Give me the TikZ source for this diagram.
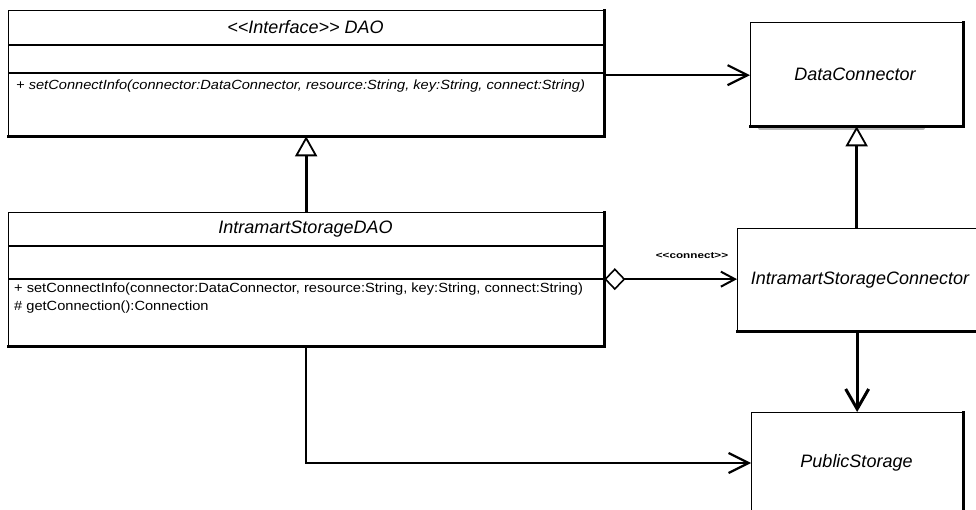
\documentclass[tikz,border=0pt]{standalone}
\usepackage{fontspec}
\setmainfont{Liberation Sans}
\newfontfamily\methfont[FakeStretch=1.1]{Liberation Sans}
\newfontfamily\lblfont[FakeStretch=1.3]{Liberation Sans}
\usetikzlibrary{arrows.meta}
\newcommand{\dlt}{<\kern0pt<}
\newcommand{\dgt}{>\kern0pt>}
\begin{document}
\begin{tikzpicture}[x=1pt,y=-1pt,
  box/.style={draw, line width=1.3pt, fill=white, inner sep=0pt, anchor=north west},
  ttl/.style={font=\itshape\fontsize{18}{21}\selectfont, inner sep=0pt},
  meth/.style={font=\methfont\fontsize{13.3}{16}\selectfont, inner sep=0pt, anchor=west},
  sep/.style={line width=1.1pt},
  edge/.style={line width=2.6pt, line cap=rect},
  hline/.style={line width=2.2pt},
  vline/.style={line width=3.2pt},
  opentip/.style={-{Straight Barb[length=20pt,width=20pt,line width=2.2pt]}},
  gentip/.style={-{Triangle[open,length=20pt,width=22pt,line width=1.8pt,fill=white]}},
  aggtip/.style={{Diamond[open,length=21pt,width=22pt,line width=1.6pt,fill=white]}-{Straight Barb[length=14pt,width=15pt,line width=2pt]}}
]
\useasboundingbox (0,0) rectangle (976,510);

% boxes
\node[box, minimum width=595pt, minimum height=125pt] (dao) at (8,10) {};
\node[box, minimum width=595pt, minimum height=133pt] (isdao) at (8,212) {};
\fill[gray!55, rounded corners=2pt] (758,124) rectangle (925,130);
\node[box, minimum width=212pt, minimum height=103pt] (dc) at (750,22) {};
\node[box, minimum width=247pt, minimum height=102pt] (isc) at (737,228) {};
\node[box, minimum width=211pt, minimum height=110pt] (ps) at (751,412) {};

% heavier right/bottom edges
\draw[edge] (dao.north east) -- (dao.south east) -- (dao.south west);
\draw[edge] (isdao.north east) -- (isdao.south east) -- (isdao.south west);
\draw[edge] (dc.north east) -- (dc.south east) -- (dc.south west);
\draw[edge] (isc.south east) -- (isc.south west);
\draw[edge] (ps.north east) -- (ps.south east);

% compartments
\draw[sep] (dao.west |- 0,45) -- (dao.east |- 0,45);
\draw[sep] (dao.west |- 0,73) -- (dao.east |- 0,73);
\draw[sep] (isdao.west |- 0,246) -- (isdao.east |- 0,246);
\draw[sep] (isdao.west |- 0,279) -- (isdao.east |- 0,279);

% texts
\node[ttl] (daot) at (305.5,27.5) {\dlt Interface\dgt{} DAO};
\node[meth, font=\methfont\itshape\fontsize{13.3}{16}\selectfont] (daom) at (16,86) {+ setConnectInfo(connector:DataConnector, resource:String, key:String, connect:String)};
\node[ttl] (isdaot) at (305.5,229) {IntramartStorageDAO};
\node[meth] (isdaom1) at (14,289) {+ setConnectInfo(connector:DataConnector, resource:String, key:String, connect:String)};
\node[meth] (isdaom2) at (14,307) {\# getConnection():Connection};
\node[ttl] (dct) at (855,74) {DataConnector};
\node[ttl] (isct) at (860,280) {IntramartStorageConnector};
\node[ttl] (pst) at (856.5,463) {PublicStorage};
\node[inner sep=0pt, font=\lblfont\bfseries\fontsize{9}{10}\selectfont] (lbl) at (692,256) {\dlt connect\dgt};

% connectors
\draw[hline, opentip] ([yshift=-2pt]dao.east) -- ([yshift=-2pt]dao.east -| dc.west);
\draw[vline, gentip] (isdao.north) -- (dao.south);
\draw[vline, gentip] (isc.north -| dc.south) -- (dc.south);
\draw[hline, aggtip] (isdao.east) -- (isdao.east -| isc.west);
\draw[vline, -{Straight Barb[length=20pt,width=23pt,line width=3pt]}] (ps.north |- isc.south) -- (ps.north);
\draw[hline, opentip] (isdao.south) -- (isdao.south |- pst) -- (pst -| ps.west);
\end{tikzpicture}
\end{document}
